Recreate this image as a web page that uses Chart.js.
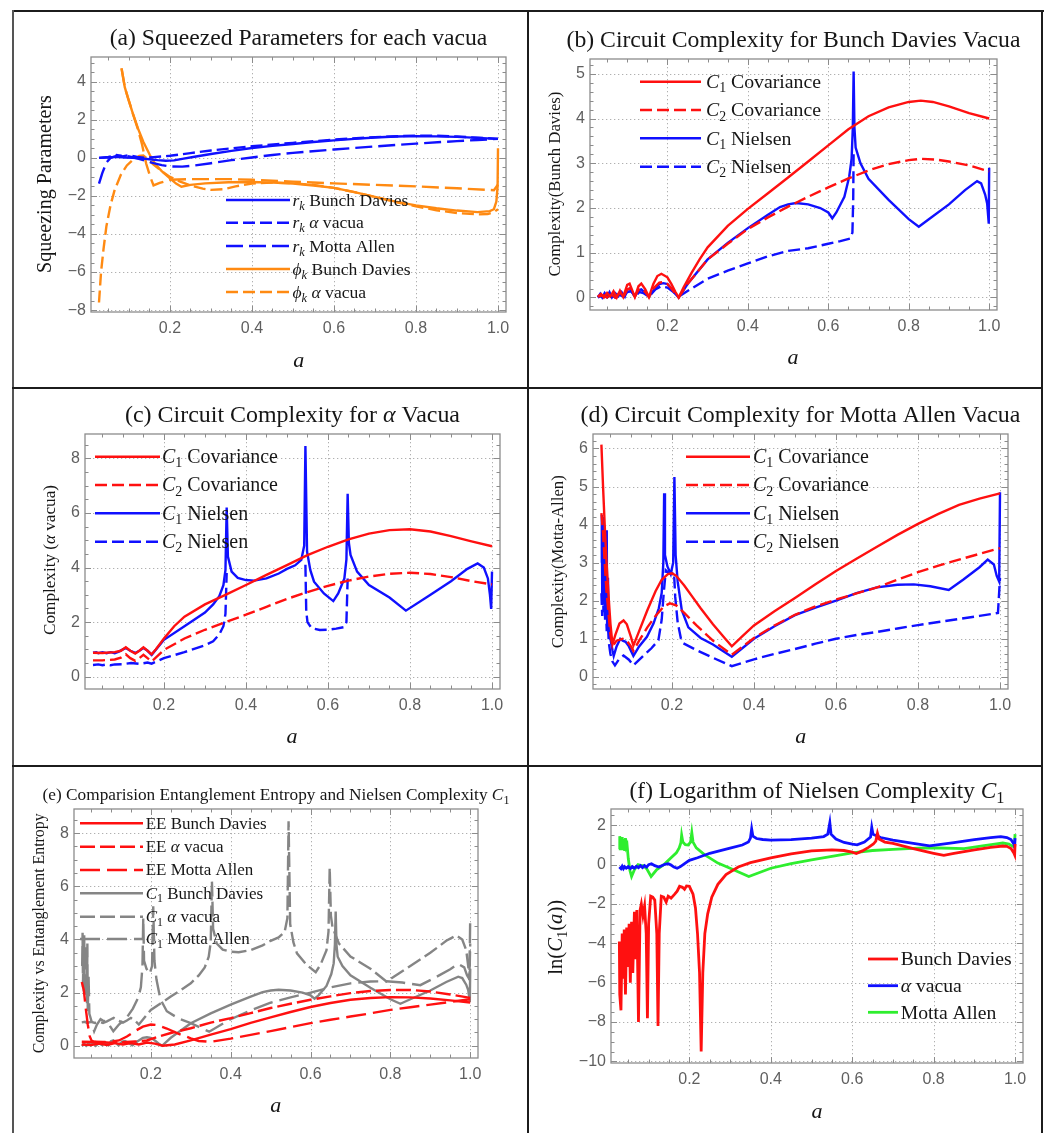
<!DOCTYPE html>
<html>
<head>
<meta charset="utf-8">
<script src="https://cdn.jsdelivr.net/npm/chart.js@4/dist/chart.umd.min.js"></script>
<style>
  body { margin: 0; background: #fff; }
  #page { position: relative; width: 1048px; height: 1133px; overflow: hidden; }
  canvas { position: absolute; }
  .rule { position: absolute; background: #1c1c1c; }
</style>
</head>
<body>
<div id="page">
  <div class="rule" style="left:12px;top:10px;width:1032px;height:2px"></div>
  <div class="rule" style="left:12px;top:10px;width:2px;height:1123px;background:#555"></div>
  <div class="rule" style="left:527px;top:10px;width:2px;height:1123px"></div>
  <div class="rule" style="left:1041px;top:10px;width:2px;height:1123px"></div>
  <div class="rule" style="left:12px;top:387px;width:1031px;height:2px"></div>
  <div class="rule" style="left:12px;top:765px;width:1031px;height:2px"></div>
  <canvas id="pa"></canvas>
  <canvas id="pb"></canvas>
  <canvas id="pc"></canvas>
  <canvas id="pd"></canvas>
  <canvas id="pe"></canvas>
  <canvas id="pf"></canvas>
</div>
<script>
// ---- axis ticks ----
const xTicks = [0.2, 0.4, 0.6, 0.8, 1.0];
const yTicksA = [-8, -6, -4, -2, 0, 2, 4];
const yTicksB = [0, 1, 2, 3, 4, 5];
const yTicksC = [0, 2, 4, 6, 8];
const yTicksD = [0, 1, 2, 3, 4, 5, 6];
const yTicksE = [0, 2, 4, 6, 8];
const yTicksF = [-10, -8, -6, -4, -2, 0, 2];

// ---- (a) squeezing parameters  [a, value] ----
const rkBD = [[0.027,0],[0.05,0.02],[0.07,0.05],[0.09,0.02],[0.11,0],[0.13,-0.03],[0.15,-0.07],[0.17,-0.12],[0.19,-0.15],[0.21,-0.13],[0.23,-0.05],[0.26,0.06],[0.3,0.2],[0.35,0.37],[0.4,0.52],[0.45,0.63],[0.5,0.73],[0.55,0.83],[0.6,0.92],[0.65,1.0],[0.7,1.07],[0.75,1.12],[0.8,1.14],[0.85,1.13],[0.9,1.1],[0.95,1.05],[1.0,1.0]];
const rkAV = [[0.027,0],[0.05,0.05],[0.07,0.15],[0.085,0.08],[0.1,0.15],[0.12,0.05],[0.14,0],[0.16,0.04],[0.18,0.07],[0.2,0.11],[0.25,0.25],[0.3,0.39],[0.35,0.5],[0.4,0.61],[0.5,0.79],[0.6,0.96],[0.7,1.09],[0.8,1.17],[0.85,1.16],[0.9,1.12],[0.95,1.06],[1.0,1.0]];
const rkMA = [[0.027,-1.35],[0.035,-0.8],[0.045,-0.25],[0.055,0],[0.07,0.1],[0.085,0.12],[0.1,0.08],[0.12,-0.02],[0.14,-0.15],[0.16,-0.28],[0.18,-0.38],[0.2,-0.45],[0.23,-0.46],[0.26,-0.4],[0.3,-0.28],[0.35,-0.12],[0.4,0.02],[0.45,0.15],[0.5,0.26],[0.6,0.44],[0.7,0.6],[0.8,0.75],[0.9,0.88],[0.95,0.94],[1.0,1.0]];
const phiBD = [[0.082,4.7],[0.09,3.7],[0.098,3.13],[0.11,2.3],[0.122,1.55],[0.135,0.85],[0.151,0.15],[0.165,-0.35],[0.18,-0.7],[0.2,-1.08],[0.215,-1.35],[0.228,-1.52],[0.25,-1.42],[0.286,-1.34],[0.343,-1.28],[0.4,-1.27],[0.45,-1.3],[0.5,-1.35],[0.55,-1.45],[0.6,-1.58],[0.65,-1.8],[0.7,-2.05],[0.75,-2.3],[0.8,-2.5],[0.85,-2.65],[0.9,-2.77],[0.95,-2.85],[0.98,-2.8],[0.99,-2.7],[0.996,-2.3],[0.999,-1.5],[1.0,0.5]];
const phiAV = [[0.027,-7.6],[0.032,-6.0],[0.038,-4.8],[0.045,-3.6],[0.055,-2.5],[0.065,-1.7],[0.08,-0.9],[0.095,-0.4],[0.11,-0.1],[0.125,0.1],[0.135,0.12],[0.145,-0.05],[0.16,-0.35],[0.18,-0.7],[0.2,-1.0],[0.225,-1.25],[0.25,-1.45],[0.28,-1.62],[0.3,-1.68],[0.33,-1.65],[0.36,-1.5],[0.4,-1.35],[0.45,-1.3],[0.5,-1.33],[0.55,-1.42],[0.6,-1.58],[0.65,-1.8],[0.7,-2.05],[0.75,-2.32],[0.8,-2.55],[0.85,-2.75],[0.9,-2.9],[0.95,-2.97],[0.975,-2.95],[0.99,-2.85],[1.0,-2.7]];
const phiMA = [[0.082,4.7],[0.09,3.7],[0.098,3.13],[0.11,2.3],[0.122,1.5],[0.132,0.7],[0.142,-0.3],[0.152,-1.0],[0.16,-1.45],[0.175,-1.32],[0.2,-1.15],[0.25,-1.12],[0.3,-1.12],[0.35,-1.12],[0.4,-1.15],[0.5,-1.25],[0.6,-1.34],[0.7,-1.42],[0.8,-1.5],[0.9,-1.6],[0.97,-1.68],[0.99,-1.7],[1.0,-1.4]];

// ---- (b) Bunch Davies complexity ----
const bdC1Cov = [[0.027,0.02],[0.035,0.08],[0.042,0],[0.05,0.1],[0.058,0.02],[0.066,0.14],[0.074,0],[0.082,0.15],[0.09,0.01],[0.1,0.28],[0.106,0.31],[0.119,0.01],[0.128,0.25],[0.135,0.31],[0.145,0.18],[0.154,0.01],[0.165,0.3],[0.175,0.48],[0.185,0.53],[0.2,0.45],[0.21,0.3],[0.22,0.12],[0.228,0],[0.24,0.22],[0.26,0.55],[0.28,0.85],[0.3,1.12],[0.35,1.6],[0.4,1.98],[0.45,2.33],[0.5,2.68],[0.55,3.04],[0.6,3.4],[0.65,3.76],[0.7,4.05],[0.75,4.25],[0.8,4.37],[0.83,4.4],[0.86,4.37],[0.9,4.27],[0.95,4.12],[1.0,4.0]];
const bdC2Cov = [[0.027,0.02],[0.04,0.05],[0.05,0],[0.06,0.08],[0.07,0],[0.08,0.1],[0.09,0],[0.1,0.18],[0.106,0.2],[0.119,0.02],[0.128,0.17],[0.135,0.2],[0.145,0.12],[0.154,0.01],[0.165,0.2],[0.18,0.33],[0.19,0.35],[0.2,0.3],[0.21,0.2],[0.22,0.08],[0.228,0],[0.25,0.3],[0.3,0.85],[0.35,1.2],[0.4,1.53],[0.45,1.79],[0.5,2.03],[0.55,2.25],[0.6,2.46],[0.65,2.66],[0.7,2.84],[0.75,2.98],[0.8,3.07],[0.83,3.1],[0.87,3.08],[0.9,3.04],[0.95,2.95],[1.0,2.82]];
const bdC1Niel = [[0.027,0],[0.033,0.08],[0.038,0],[0.044,0.1],[0.05,0.02],[0.056,0.12],[0.062,0],[0.07,0.1],[0.078,0.03],[0.086,0.12],[0.094,0.02],[0.1,0.17],[0.106,0.2],[0.119,0.02],[0.128,0.16],[0.135,0.18],[0.145,0.1],[0.154,0.02],[0.165,0.15],[0.18,0.3],[0.19,0.32],[0.2,0.3],[0.21,0.2],[0.22,0.08],[0.228,0],[0.25,0.3],[0.3,0.85],[0.35,1.22],[0.4,1.55],[0.45,1.85],[0.48,2.02],[0.5,2.08],[0.52,2.11],[0.55,2.08],[0.58,2.0],[0.6,1.9],[0.61,1.77],[0.62,1.9],[0.64,2.25],[0.652,2.7],[0.658,3.1],[0.661,3.8],[0.663,5.05],[0.665,3.8],[0.668,3.35],[0.68,3.0],[0.7,2.65],[0.75,2.18],[0.8,1.75],[0.825,1.58],[0.85,1.75],[0.9,2.08],[0.94,2.4],[0.97,2.6],[0.98,2.55],[0.99,2.3],[0.995,2.1],[0.999,1.65],[1.0,2.9]];
const bdC2Niel = [[0.027,0],[0.04,0.04],[0.05,0],[0.06,0.06],[0.07,0],[0.08,0.08],[0.09,0],[0.1,0.12],[0.11,0.14],[0.12,0.02],[0.13,0.12],[0.14,0.1],[0.154,0.02],[0.17,0.18],[0.185,0.25],[0.2,0.22],[0.215,0.12],[0.228,0.02],[0.26,0.2],[0.3,0.42],[0.35,0.6],[0.4,0.76],[0.45,0.92],[0.5,1.04],[0.55,1.1],[0.6,1.2],[0.63,1.26],[0.655,1.32],[0.66,1.45],[0.662,2.2],[0.663,3.3]];

// ---- (c) alpha vacua complexity ----
const avC1Cov = [[0.027,0.88],[0.05,0.87],[0.08,0.9],[0.095,0.95],[0.107,1.08],[0.118,0.95],[0.13,0.85],[0.14,0.95],[0.15,1.08],[0.16,0.95],[0.17,0.82],[0.18,1.0],[0.2,1.4],[0.225,1.85],[0.25,2.2],[0.3,2.65],[0.35,3.0],[0.4,3.36],[0.45,3.73],[0.5,4.09],[0.55,4.45],[0.6,4.76],[0.65,5.03],[0.7,5.24],[0.75,5.37],[0.8,5.4],[0.85,5.32],[0.9,5.15],[0.95,4.96],[1.0,4.78]];
const avC2Cov = [[0.027,0.6],[0.05,0.6],[0.08,0.63],[0.095,0.7],[0.107,0.82],[0.118,0.68],[0.13,0.58],[0.14,0.68],[0.15,0.8],[0.16,0.68],[0.17,0.56],[0.18,0.7],[0.2,0.98],[0.25,1.4],[0.3,1.72],[0.35,2.0],[0.4,2.27],[0.45,2.56],[0.5,2.85],[0.55,3.1],[0.6,3.33],[0.65,3.52],[0.7,3.67],[0.75,3.77],[0.8,3.81],[0.85,3.76],[0.9,3.65],[0.95,3.5],[1.0,3.38]];
const avC1Niel = [[0.027,0.88],[0.035,0.9],[0.04,0.86],[0.05,0.9],[0.06,0.86],[0.07,0.9],[0.08,0.86],[0.09,0.92],[0.1,1.0],[0.107,1.05],[0.118,0.95],[0.13,0.87],[0.14,0.95],[0.15,1.05],[0.16,0.95],[0.17,0.8],[0.2,1.35],[0.25,1.85],[0.3,2.35],[0.32,2.65],[0.335,2.95],[0.345,3.35],[0.35,3.9],[0.353,6.2],[0.356,4.4],[0.365,3.85],[0.38,3.62],[0.4,3.54],[0.42,3.52],[0.45,3.6],[0.48,3.78],[0.5,3.95],[0.52,4.08],[0.535,4.28],[0.542,4.8],[0.545,8.45],[0.549,4.58],[0.557,3.9],[0.566,3.48],[0.59,3.05],[0.613,2.77],[0.625,3.05],[0.64,3.6],[0.645,4.3],[0.648,6.7],[0.651,4.9],[0.655,4.46],[0.671,3.85],[0.7,3.36],[0.75,2.9],[0.79,2.42],[0.85,3.0],[0.9,3.5],[0.94,3.95],[0.965,4.15],[0.98,4.0],[0.99,3.6],[0.995,3.0],[0.998,2.48],[1.0,3.85]];
const avC2Niel = [[0.027,0.43],[0.04,0.45],[0.05,0.42],[0.06,0.45],[0.07,0.42],[0.08,0.45],[0.1,0.46],[0.12,0.5],[0.14,0.47],[0.16,0.52],[0.17,0.48],[0.2,0.68],[0.25,0.9],[0.3,1.15],[0.32,1.3],[0.335,1.55],[0.345,1.85],[0.35,2.3],[0.353,3.8],[0.45,null],[0.545,4.1],[0.547,2.4],[0.55,2.0],[0.56,1.78],[0.58,1.71],[0.6,1.72],[0.62,1.76],[0.64,1.82],[0.645,2.0],[0.648,3.6]];

// ---- (d) Motta Allen complexity ----
const maC1Cov = [[0.028,6.1],[0.032,5.0],[0.036,4.0],[0.04,3.1],[0.045,2.2],[0.05,1.4],[0.055,0.85],[0.062,1.1],[0.072,1.4],[0.082,1.48],[0.09,1.38],[0.1,1.05],[0.106,0.82],[0.12,1.2],[0.14,1.75],[0.16,2.25],[0.175,2.55],[0.19,2.7],[0.2,2.72],[0.21,2.66],[0.23,2.4],[0.25,2.1],[0.27,1.8],[0.3,1.38],[0.33,1.0],[0.346,0.8],[0.37,1.05],[0.4,1.35],[0.45,1.72],[0.5,2.07],[0.55,2.43],[0.6,2.78],[0.65,3.1],[0.7,3.42],[0.75,3.73],[0.8,4.02],[0.85,4.28],[0.9,4.52],[0.95,4.68],[1.0,4.82]];
const maC2Cov = [[0.028,4.3],[0.032,3.8],[0.036,3.0],[0.04,2.3],[0.045,1.7],[0.05,1.1],[0.055,0.8],[0.065,0.95],[0.08,1.0],[0.09,0.95],[0.1,0.8],[0.106,0.68],[0.12,0.95],[0.14,1.3],[0.16,1.6],[0.18,1.85],[0.195,1.93],[0.21,1.88],[0.23,1.68],[0.26,1.35],[0.3,0.95],[0.346,0.58],[0.4,1.02],[0.45,1.35],[0.5,1.63],[0.55,1.85],[0.6,2.03],[0.65,2.19],[0.7,2.35],[0.75,2.55],[0.8,2.75],[0.85,2.92],[0.9,3.08],[0.95,3.23],[1.0,3.38]];
const maC1Niel = [[0.028,3.0],[0.029,4.25],[0.03,2.2],[0.031,3.9],[0.032,2.0],[0.033,4.2],[0.034,2.5],[0.036,3.8],[0.037,1.8],[0.039,3.8],[0.04,1.6],[0.041,3.85],[0.042,1.3],[0.044,2.6],[0.046,1.2],[0.05,1.0],[0.055,0.7],[0.058,0.55],[0.065,0.8],[0.074,1.0],[0.08,0.95],[0.087,0.92],[0.095,0.8],[0.106,0.55],[0.12,0.8],[0.139,1.05],[0.155,1.4],[0.168,1.8],[0.175,2.2],[0.179,3.0],[0.181,4.82],[0.183,3.2],[0.189,2.9],[0.197,2.7],[0.203,3.0],[0.206,5.25],[0.209,3.2],[0.214,2.5],[0.224,1.75],[0.24,1.3],[0.27,1.02],[0.3,0.85],[0.346,0.53],[0.4,1.0],[0.45,1.33],[0.5,1.62],[0.55,1.82],[0.6,2.0],[0.65,2.2],[0.7,2.35],[0.75,2.42],[0.79,2.43],[0.83,2.38],[0.875,2.28],[0.91,2.55],[0.95,2.88],[0.97,3.08],[0.985,2.95],[0.992,2.65],[0.998,2.5],[1.0,4.85]];
const maC2Niel = [[0.028,2.2],[0.03,1.6],[0.031,3.0],[0.033,1.7],[0.035,2.3],[0.037,1.5],[0.039,2.0],[0.041,1.2],[0.043,1.6],[0.046,0.9],[0.05,0.6],[0.055,0.4],[0.061,0.3],[0.07,0.45],[0.082,0.56],[0.095,0.45],[0.106,0.3],[0.13,0.55],[0.15,0.75],[0.167,0.96],[0.175,1.5],[0.18,2.2],[0.185,2.8],[0.19,2.75],[0.2,2.7],[0.205,2.75],[0.208,2.1],[0.214,1.43],[0.222,1.0],[0.228,0.88],[0.26,0.7],[0.3,0.5],[0.346,0.28],[0.4,0.46],[0.45,0.6],[0.5,0.73],[0.55,0.87],[0.6,1.0],[0.65,1.1],[0.7,1.18],[0.75,1.27],[0.8,1.36],[0.85,1.44],[0.9,1.52],[0.95,1.6],[0.995,1.68],[1.0,2.6]];

// ---- (e) entanglement entropy ----
const eeBD = [[0.027,0.05],[0.05,0.03],[0.07,0.08],[0.09,0.03],[0.11,0.1],[0.13,0.05],[0.15,0.1],[0.17,0.05],[0.19,0.12],[0.21,0.08],[0.23,0],[0.26,0.05],[0.3,0.2],[0.35,0.42],[0.4,0.63],[0.45,0.86],[0.5,1.07],[0.55,1.27],[0.6,1.46],[0.65,1.61],[0.7,1.73],[0.75,1.8],[0.8,1.83],[0.85,1.82],[0.9,1.78],[0.95,1.71],[1.0,1.63]];
const eeAV = [[0.027,0.15],[0.06,0.14],[0.1,0.12],[0.13,0.13],[0.16,0.16],[0.19,0.2],[0.22,0.35],[0.25,0.48],[0.3,0.66],[0.35,0.87],[0.4,1.04],[0.45,1.23],[0.5,1.42],[0.55,1.58],[0.6,1.73],[0.65,1.86],[0.7,1.98],[0.75,2.06],[0.8,2.1],[0.85,2.1],[0.9,2.04],[0.95,1.93],[1.0,1.8]];
const eeMA = [[0.027,2.4],[0.032,2.1],[0.037,1.4],[0.042,0.8],[0.047,0.35],[0.052,0.18],[0.06,0.15],[0.08,0.14],[0.1,0.15],[0.12,0.2],[0.14,0.35],[0.16,0.55],[0.18,0.72],[0.2,0.8],[0.215,0.78],[0.24,0.65],[0.27,0.45],[0.3,0.28],[0.32,0.18],[0.35,0.15],[0.4,0.27],[0.45,0.41],[0.5,0.55],[0.55,0.7],[0.6,0.85],[0.65,0.98],[0.7,1.1],[0.75,1.22],[0.8,1.35],[0.85,1.45],[0.9,1.55],[0.95,1.65],[1.0,1.75]];

// ---- (f) log of Nielsen C1 ----
const lnBD = [[0.028,-3.9],[0.029,-6.6],[0.032,-7.4],[0.035,-3.5],[0.038,-5.8],[0.04,-3.3],[0.043,-6.6],[0.046,-3.2],[0.049,-5.2],[0.052,-3.0],[0.055,-6.0],[0.058,-2.9],[0.061,-5.5],[0.065,-2.4],[0.068,-4.8],[0.071,-2.3],[0.075,-8.0],[0.079,-2.3],[0.082,-2.0],[0.086,-2.6],[0.09,-2.1],[0.094,-3.5],[0.097,-7.8],[0.1,-3.0],[0.105,-1.6],[0.11,-1.65],[0.115,-1.8],[0.12,-3.5],[0.123,-8.2],[0.126,-3.5],[0.131,-1.6],[0.137,-1.65],[0.143,-1.9],[0.148,-1.6],[0.155,-1.7],[0.164,-1.5],[0.17,-1.35],[0.176,-1.1],[0.183,-1.15],[0.188,-1.25],[0.193,-1.08],[0.2,-1.1],[0.209,-1.5],[0.215,-2.2],[0.22,-3.5],[0.225,-5.5],[0.229,-9.5],[0.233,-5.5],[0.238,-3.5],[0.245,-2.5],[0.255,-1.65],[0.27,-1.0],[0.29,-0.5],[0.32,-0.12],[0.35,0.1],[0.4,0.35],[0.45,0.55],[0.5,0.7],[0.55,0.75],[0.58,0.72],[0.6,0.64],[0.61,0.57],[0.625,0.7],[0.64,0.88],[0.652,1.05],[0.658,1.2],[0.662,1.6],[0.666,1.3],[0.68,1.15],[0.7,1.08],[0.75,0.82],[0.8,0.58],[0.825,0.47],[0.85,0.57],[0.9,0.75],[0.94,0.88],[0.97,0.95],[0.98,0.93],[0.99,0.82],[0.997,0.6],[0.999,0.5],[1.0,1.05]];
const lnAV = [[0.028,-0.12],[0.032,-0.2],[0.035,-0.08],[0.038,-0.2],[0.041,-0.1],[0.045,-0.18],[0.05,-0.1],[0.055,-0.2],[0.06,-0.1],[0.065,-0.18],[0.07,-0.08],[0.075,-0.15],[0.08,-0.05],[0.085,-0.15],[0.09,-0.05],[0.095,-0.12],[0.1,0],[0.107,0.05],[0.115,-0.05],[0.125,-0.12],[0.132,-0.05],[0.14,0.02],[0.148,0.05],[0.155,-0.02],[0.162,-0.12],[0.17,-0.18],[0.178,-0.1],[0.19,0.08],[0.2,0.22],[0.22,0.35],[0.25,0.58],[0.3,0.84],[0.33,1.0],[0.345,1.15],[0.35,1.35],[0.353,1.82],[0.356,1.45],[0.365,1.33],[0.38,1.28],[0.4,1.25],[0.45,1.27],[0.5,1.35],[0.53,1.43],[0.54,1.55],[0.545,2.13],[0.548,1.55],[0.56,1.3],[0.58,1.13],[0.6,1.04],[0.612,1.01],[0.63,1.15],[0.645,1.4],[0.648,1.9],[0.651,1.55],[0.67,1.38],[0.7,1.25],[0.75,1.08],[0.79,0.96],[0.85,1.12],[0.9,1.27],[0.94,1.38],[0.965,1.43],[0.98,1.38],[0.99,1.28],[0.997,1.05],[0.999,0.9],[1.0,1.35]];
const lnMA = [[0.028,0.8],[0.029,1.45],[0.03,0.8],[0.031,1.35],[0.033,0.75],[0.035,1.4],[0.037,0.8],[0.039,1.3],[0.041,0.7],[0.043,1.35],[0.045,0.9],[0.047,1.0],[0.05,0.3],[0.054,-0.3],[0.058,-0.6],[0.065,-0.25],[0.074,0],[0.08,-0.03],[0.087,-0.05],[0.095,-0.2],[0.106,-0.6],[0.12,-0.25],[0.139,0.03],[0.155,0.35],[0.168,0.6],[0.175,0.85],[0.179,1.1],[0.181,1.5],[0.184,1.15],[0.19,1.02],[0.197,1.0],[0.203,1.15],[0.206,1.62],[0.209,1.15],[0.217,0.85],[0.237,0.51],[0.27,0.08],[0.3,-0.18],[0.346,-0.6],[0.4,-0.18],[0.45,0.05],[0.5,0.24],[0.55,0.42],[0.6,0.6],[0.65,0.72],[0.7,0.78],[0.75,0.83],[0.79,0.86],[0.875,0.82],[0.92,0.95],[0.95,1.05],[0.97,1.1],[0.985,1.05],[0.995,0.92],[0.998,0.9],[1.0,1.55]];

const X_MIN = 0.0075, X_MAX = 1.0195;
const SERIF = '"Liberation Serif", "DejaVu Serif", serif';
const SANS = '"Liberation Sans", Arial, sans-serif';
const TICK_COLOR = '#5f5f5f';
const BLUE = '#1010ff', RED = '#ff1010', ORANGE = '#ff8a12', GREEN = '#2eee2e', GRAY = '#858585';
const DASH_S = [12, 5], DASH_L = [17, 6];

// rich text: *...* italic, _x subscript
function parseRich(str) {
  const parts = [];
  let italic = false, buf = '';
  for (let i = 0; i < str.length; i++) {
    const c = str[i];
    if (c === '*') { if (buf) parts.push({t: buf, it: italic}); buf = ''; italic = !italic; }
    else if (c === '_') { if (buf) parts.push({t: buf, it: italic}); buf = ''; parts.push({t: str[i + 1], it: italic, sub: true}); i++; }
    else buf += c;
  }
  if (buf) parts.push({t: buf, it: italic});
  return parts;
}
function fontFor(p, size) {
  return (p.it ? 'italic ' : '') + (p.sub ? size * 0.7 : size) + 'px ' + SERIF;
}
function richWidth(ctx, str, size) {
  let w = 0;
  for (const p of parseRich(str)) { ctx.font = fontFor(p, size); w += ctx.measureText(p.t).width; }
  return w;
}
function fitSize(ctx, str, width) {
  return 20 * width / richWidth(ctx, str, 20);
}
function drawRich(ctx, str, x, y, size, center) {
  let cx = center ? x - richWidth(ctx, str, size) / 2 : x;
  ctx.textAlign = 'left';
  ctx.textBaseline = 'alphabetic';
  for (const p of parseRich(str)) {
    ctx.font = fontFor(p, size);
    ctx.fillText(p.t, cx, y + (p.sub ? size * 0.22 : 0));
    cx += ctx.measureText(p.t).width;
  }
}
function seg(ctx, x1, y1, x2, y2) {
  ctx.beginPath(); ctx.moveTo(x1, y1); ctx.lineTo(x2, y2); ctx.stroke();
}

// grid, frame ticks, titles and legend for one panel
function decoPlugin(p) {
  const ox = p.box[0], oy = p.box[1];
  return {
    id: 'deco_' + p.id,
    beforeDatasetsDraw(chart) {
      const {ctx, chartArea: a, scales: {x, y}} = chart;
      ctx.save();
      ctx.strokeStyle = '#b0b0b0';
      ctx.lineWidth = 1;
      ctx.setLineDash([1.3, 2.7]);
      x.ticks.forEach(t => { const px = Math.round(x.getPixelForValue(t.value)) + 0.5; seg(ctx, px, a.top, px, a.bottom); });
      y.ticks.forEach(t => { const py = Math.round(y.getPixelForValue(t.value)) + 0.5; seg(ctx, a.left, py, a.right, py); });
      ctx.restore();
    },
    afterDatasetsDraw(chart) {
      const {ctx, chartArea: a, scales: {x, y}} = chart;
      ctx.save();
      ctx.strokeStyle = '#8c8c8c';
      ctx.lineWidth = 1.3;
      ctx.strokeRect(a.left, a.top, a.right - a.left, a.bottom - a.top);
      ctx.lineWidth = 1;
      for (let i = 1; i <= 20; i++) {
        const v = i * 0.05, px = Math.round(x.getPixelForValue(v)) + 0.5;
        const len = i % 4 === 0 ? 6 : 3.5;
        seg(ctx, px, a.bottom, px, a.bottom - len);
        seg(ctx, px, a.top, px, a.top + len);
      }
      const lo = Math.ceil(p.y[0] / p.minorY), hi = Math.floor(p.y[1] / p.minorY);
      for (let k = lo; k <= hi; k++) {
        const v = k * p.minorY, py = Math.round(y.getPixelForValue(v)) + 0.5;
        const len = p.yTicks.some(t => Math.abs(t - v) < 1e-6) ? 6 : 3.5;
        seg(ctx, a.left, py, a.left + len, py);
        seg(ctx, a.right, py, a.right - len, py);
      }
      ctx.restore();
    },
    afterDraw(chart) {
      const {ctx, chartArea: a} = chart;
      ctx.save();
      ctx.fillStyle = '#161616';
      // panel title
      const ts = fitSize(ctx, p.title.text, p.title.width);
      drawRich(ctx, p.title.text, (a.left + a.right) / 2, p.title.base - oy, ts, true);
      // axis titles
      drawRich(ctx, '*a*', p.xtitle[0] - ox, p.xtitle[1] - oy + 5, 22, true);
      const ys = fitSize(ctx, p.ytitle.text, p.ytitle.width);
      ctx.save();
      ctx.translate(p.ytitle.x - ox + ys * 0.3, p.ytitle.y - oy);
      ctx.rotate(-Math.PI / 2);
      drawRich(ctx, p.ytitle.text, 0, 0, ys, true);
      ctx.restore();
      // legend
      const lg = p.legend;
      const items = p.series.filter(s => s.label);
      const ls = fitSize(ctx, items[0].label, lg.width);
      items.forEach((s, i) => {
        const yy = lg.rows[i] - oy;
        ctx.strokeStyle = s.color;
        ctx.lineWidth = s.width || 2.4;
        ctx.setLineDash(s.dash || []);
        seg(ctx, lg.x0 - ox, yy, lg.x1 - ox, yy);
        ctx.setLineDash([]);
        drawRich(ctx, s.label, lg.tx - ox, yy + ls * 0.32, ls, false);
      });
      ctx.restore();
    }
  };
}

function buildPanel(p) {
  const cv = document.getElementById(p.id);
  const [bl, bt, bw, bh] = p.box;
  const [pl, pt, pr, pb] = p.plot;
  const YW = 50, XH = 40;
  cv.width = bw; cv.height = bh;
  cv.style.left = bl + 'px'; cv.style.top = bt + 'px';
  const tickFont = {family: SANS, size: 16};
  new Chart(cv, {
    type: 'line',
    data: {
      datasets: p.series.map(s => ({
        data: s.data.map(([x, y]) => ({x, y})),
        borderColor: s.color,
        borderWidth: s.width || 2.4,
        borderDash: s.dash || [],
        pointRadius: 0,
        tension: 0,
        fill: false
      }))
    },
    options: {
      responsive: false,
      animation: false,
      devicePixelRatio: 1,
      events: [],
      layout: {padding: {left: pl - bl - YW, top: pt - bt, right: bl + bw - pr, bottom: bt + bh - pb - XH}},
      plugins: {legend: {display: false}, tooltip: {enabled: false}, title: {display: false}},
      scales: {
        x: {
          type: 'linear', min: X_MIN, max: X_MAX,
          grid: {display: false, drawTicks: false}, border: {display: false},
          afterBuildTicks: s => { s.ticks = xTicks.map(v => ({value: v})); },
          afterFit: s => { s.height = XH; },
          ticks: {autoSkip: false, maxRotation: 0, minRotation: 0, padding: 7, color: TICK_COLOR, font: tickFont,
                  callback: v => v.toFixed(1)}
        },
        y: {
          type: 'linear', min: p.y[0], max: p.y[1],
          grid: {display: false, drawTicks: false}, border: {display: false},
          afterBuildTicks: s => { s.ticks = p.yTicks.map(v => ({value: v})); },
          afterFit: s => { s.width = YW; },
          ticks: {autoSkip: false, padding: 5, color: TICK_COLOR, font: tickFont,
                  callback: v => (v < 0 ? '\u2212' : '') + Math.abs(v)}
        }
      }
    },
    plugins: [decoPlugin(p)]
  });
}

const panels = [
  {
    id: 'pa', box: [14, 12, 513, 375], plot: [91, 57, 506, 312], y: [-8.1, 5.3], yTicks: yTicksA, minorY: 0.5,
    title: {text: '(a) Squeezed Parameters for each vacua', base: 45, width: 378},
    ytitle: {text: 'Squeezing Parameters', x: 44.7, y: 184, width: 178},
    xtitle: [298.7, 361.7],
    legend: {x0: 226, x1: 290, tx: 292.5, rows: [200, 222.7, 246, 269, 292], width: 116},
    series: [
      {data: rkBD, color: BLUE, label: '*r_k* Bunch Davies'},
      {data: rkAV, color: BLUE, dash: DASH_S, label: '*r_k* *α* vacua'},
      {data: rkMA, color: BLUE, dash: DASH_L, label: '*r_k* Motta Allen'},
      {data: phiBD, color: ORANGE, label: '*ϕ_k* Bunch Davies'},
      {data: phiAV, color: ORANGE, dash: DASH_S, label: '*ϕ_k* *α* vacua'},
      {data: phiMA, color: ORANGE, dash: DASH_L}
    ]
  },
  {
    id: 'pb', box: [529, 12, 512, 375], plot: [590, 59, 997, 310], y: [-0.28, 5.33], yTicks: yTicksB, minorY: 0.2,
    title: {text: '(b) Circuit Complexity for Bunch Davies Vacua', base: 46.7, width: 454},
    ytitle: {text: 'Complexity(Bunch Davies)', x: 554.7, y: 184, width: 185},
    xtitle: [793, 359],
    legend: {x0: 640, x1: 701, tx: 706, rows: [81.7, 110, 138.3, 166.7], width: 115},
    series: [
      {data: bdC1Cov, color: RED, label: '*C*_1 Covariance'},
      {data: bdC2Cov, color: RED, dash: DASH_S, label: '*C*_2 Covariance'},
      {data: bdC1Niel, color: BLUE, label: '*C*_1 Nielsen'},
      {data: bdC2Niel, color: BLUE, dash: DASH_S, label: '*C*_2 Nielsen'}
    ]
  },
  {
    id: 'pc', box: [14, 389, 513, 376], plot: [85, 434, 500, 689], y: [-0.45, 8.89], yTicks: yTicksC, minorY: 0.5,
    title: {text: '(c) Circuit Complexity for *α* Vacua', base: 421.7, width: 335},
    ytitle: {text: 'Complexity (*α* vacua)', x: 49.7, y: 560, width: 150},
    xtitle: [292, 738],
    legend: {x0: 95, x1: 160, tx: 162, rows: [456.7, 485, 513.3, 541.7], width: 116},
    series: [
      {data: avC1Cov, color: RED, label: '*C*_1 Covariance'},
      {data: avC2Cov, color: RED, dash: DASH_S, label: '*C*_2 Covariance'},
      {data: avC1Niel, color: BLUE, label: '*C*_1 Nielsen'},
      {data: avC2Niel, color: BLUE, dash: DASH_S, label: '*C*_2 Nielsen'}
    ]
  },
  {
    id: 'pd', box: [529, 389, 512, 376], plot: [593, 434, 1008, 689], y: [-0.32, 6.38], yTicks: yTicksD, minorY: 0.2,
    title: {text: '(d) Circuit Complexity for Motta Allen Vacua', base: 421.7, width: 440},
    ytitle: {text: 'Complexity(Motta-Allen)', x: 558, y: 561.7, width: 173},
    xtitle: [800.7, 738],
    legend: {x0: 686, x1: 750, tx: 753, rows: [456.7, 485, 513.3, 541.7], width: 116},
    series: [
      {data: maC1Cov, color: RED, label: '*C*_1 Covariance'},
      {data: maC2Cov, color: RED, dash: DASH_S, label: '*C*_2 Covariance'},
      {data: maC1Niel, color: BLUE, label: '*C*_1 Nielsen'},
      {data: maC2Niel, color: BLUE, dash: DASH_S, label: '*C*_2 Nielsen'}
    ]
  },
  {
    id: 'pe', box: [14, 767, 513, 366], plot: [74, 809, 478, 1058], y: [-0.46, 8.91], yTicks: yTicksE, minorY: 0.5,
    title: {text: '(e) Comparision Entanglement Entropy and Nielsen Complexity *C*_1', base: 800, width: 467},
    ytitle: {text: 'Complexity vs Entanglement Entropy', x: 39.7, y: 933.3, width: 240},
    xtitle: [275.7, 1106.7],
    legend: {x0: 80, x1: 143, tx: 145.7, rows: [823.3, 846.7, 870, 893.3, 916.7, 939], width: 121},
    series: [
      {data: eeBD, color: RED, label: 'EE Bunch Davies'},
      {data: eeAV, color: RED, dash: [15, 5], label: 'EE *α* vacua'},
      {data: eeMA, color: RED, dash: [20, 7], label: 'EE Motta Allen'},
      {data: bdC1Niel, color: GRAY, label: '*C*_1 Bunch Davies'},
      {data: avC1Niel, color: GRAY, dash: [15, 5], label: '*C*_1 *α* vacua'},
      {data: maC1Niel, color: GRAY, dash: [20, 7], label: '*C*_1 Motta Allen'}
    ]
  },
  {
    id: 'pf', box: [529, 767, 512, 366], plot: [611, 809, 1023, 1063], y: [-10.08, 2.83], yTicks: yTicksF, minorY: 0.5,
    title: {text: '(f) Logarithm of Nielsen Complexity *C*_1', base: 798, width: 375},
    ytitle: {text: 'ln(*C*_1(*a*))', x: 556, y: 937.3, width: 75},
    xtitle: [817, 1113],
    legend: {x0: 868, x1: 898, tx: 900.7, rows: [959, 985.7, 1012.3], width: 111},
    series: [
      {data: lnBD, color: RED, width: 2.8, label: 'Bunch Davies'},
      {data: lnAV, color: BLUE, width: 2.8, label: '*α* vacua'},
      {data: lnMA, color: GREEN, width: 2.8, label: 'Motta Allen'}
    ]
  }
];

panels.forEach(buildPanel);
</script>
</body>
</html>
